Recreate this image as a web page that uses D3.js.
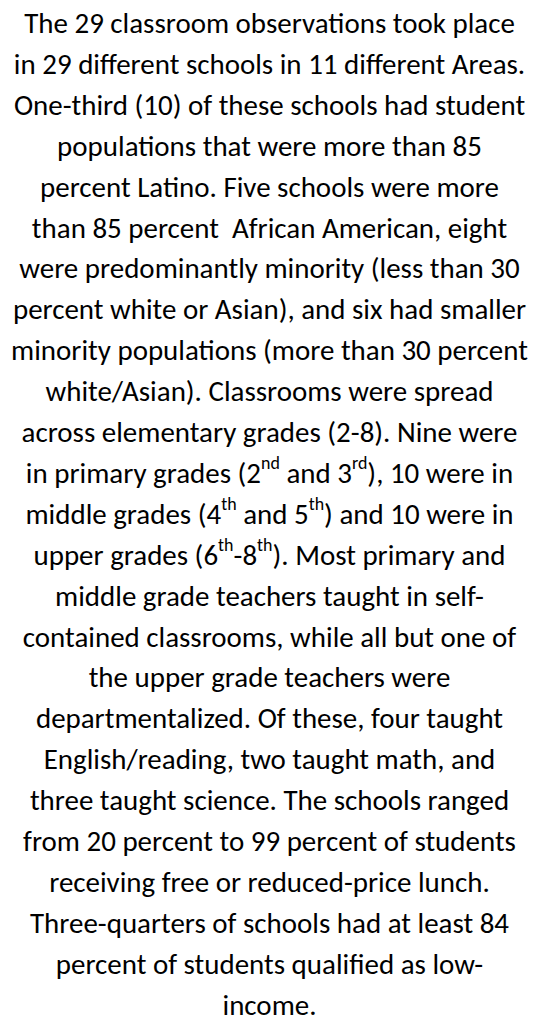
<!DOCTYPE html>
<html>
<head>
<meta charset="utf-8">
<script src="https://cdn.jsdelivr.net/npm/d3@7"></script>
<style>
  body { margin: 0; background: #fff; }
  svg { display: block; }
</style>
</head>
<body>
<svg id="page" width="539" height="1023"></svg>
<script>
// each line is a list of [text, isSuperscript]
var lines = [
    [["The 29 classroom observations took place"]],
    [["in 29 different schools in 11 different Areas."]],
    [["One-third (10) of these schools had student"]],
    [["populations that were more than 85"]],
    [["percent Latino. Five schools were more"]],
    [["than 85 percent  African American, eight"]],
    [["were predominantly minority (less than 30"]],
    [["percent white or Asian), and six had smaller"]],
    [["minority populations (more than 30 percent"]],
    [["white/Asian). Classrooms were spread"]],
    [["across elementary grades (2-8). Nine were"]],
    [["in primary grades (2"], ["nd", 1], [" and 3"], ["rd", 1], ["), 10 were in"]],
    [["middle grades (4"], ["th", 1], [" and 5"], ["th", 1], [") and 10 were in"]],
    [["upper grades (6"], ["th", 1], ["-8"], ["th", 1], ["). Most primary and"]],
    [["middle grade teachers taught in self-"]],
    [["contained classrooms, while all but one of"]],
    [["the upper grade teachers were"]],
    [["departmentalized. Of these, four taught"]],
    [["English/reading, two taught math, and"]],
    [["three taught science. The schools ranged"]],
    [["from 20 percent to 99 percent of students"]],
    [["receiving free or reduced-price lunch."]],
    [["Three-quarters of schools had at least 84"]],
    [["percent of students qualified as low-"]],
    [["income."]]
];

var width = 539, cx = width / 2;
var firstBaseline = 33, lineGap = 40.9;
var fontSize = 26;

var svg = d3.select("#page");

var y = d3.scaleLinear()
    .domain([0, lines.length - 1])
    .range([firstBaseline, firstBaseline + lineGap * (lines.length - 1)]);

var texts = svg.selectAll("text.line")
    .data(lines)
    .join("text")
    .attr("class", "line")
    .attr("x", cx)
    .attr("y", (d, i) => y(i))
    .attr("text-anchor", "middle")
    .style("font-family", "Carlito, 'Open Sans', 'Noto Sans', sans-serif")
    .style("font-size", fontSize + "px")
    .style("fill", "#000")
    .style("white-space", "pre");

texts.selectAll("tspan")
    .data(d => d)
    .join("tspan")
    .text(d => d[0])
    .attr("dy", (d, i, nodes) => {
        // move up for superscript, back down after
        var prev = i > 0 ? d3.select(nodes[i - 1]).datum() : null;
        if (d[1]) return "-0.75em";
        if (prev && prev[1]) return (0.75 * 0.62) + "em";
        return null;
    })
    .style("font-size", d => d[1] ? (fontSize * 0.62) + "px" : null);

// fit the widest line to the width seen in the picture
var widest = d3.max(texts.nodes(), n => n.getComputedTextLength());
var scaleF = 517 / widest;
fontSize = fontSize * scaleF;
texts.style("font-size", fontSize + "px");
texts.selectAll("tspan").style("font-size", d => d[1] ? (fontSize * 0.62) + "px" : null);
</script>
</body>
</html>
